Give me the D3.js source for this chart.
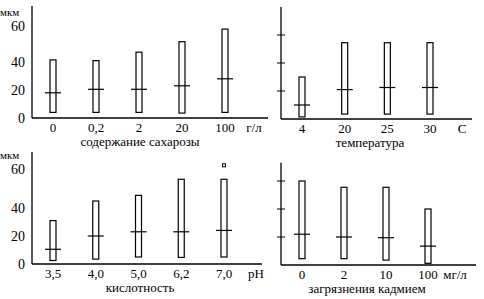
<!DOCTYPE html>
<html>
<head>
<meta charset="utf-8">
<script src="https://cdn.jsdelivr.net/npm/d3@7"></script>
<style>
  body { margin: 0; background: #fff; }
</style>
</head>
<body>
<div id="chart"></div>
<script>
// sucrose, g/l
var sugarCats = ['0', '0,2', '2', '20', '100']
var sugarLow = [4, 4, 4, 3.5, 4]
var sugarHigh = [41.5, 41, 47, 54.5, 63.5]
var sugarMed = [18, 20.5, 20.5, 23, 28]

// temperature, C
var tempCats = ['4', '20', '25', '30']
var tempLow = [1.5, 3.5, 3.5, 3.5]
var tempHigh = [30, 54.5, 54.5, 54.5]
var tempMed = [10, 21, 22.5, 22.5]

// acidity, pH
var phCats = ['3,5', '4,0', '5,0', '6,2', '7,0']
var phLow = [2.5, 3.5, 5, 4.7, 5]
var phHigh = [31, 45, 49, 60.5, 60.5]
var phMed = [10.5, 20, 23, 23, 24]
var phOutlier = [null, null, null, null, 70.5]

// cadmium, mg/l
var cdCats = ['0', '2', '10', '100']
var cdLow = [4.5, 4.5, 3.5, 1.2]
var cdHigh = [60, 55.5, 55.5, 40]
var cdMed = [22, 20, 19.5, 13.5]

var yTicks = [0, 20, 40, 60]

var svg = d3.select('#chart').append('svg')
    .attr('width', 484)
    .attr('height', 299)
    .attr('font-family', "'Liberation Serif', 'Times New Roman', Times, serif")

function drawPanel(p) {
    var g = svg.append('g')
    var x = d3.scalePoint().domain(p.cats).range(p.xr)
    var y = d3.scaleLinear().domain([0, 80]).range([p.y0, p.y0 - 112])

    // axes lines
    g.append('line')
        .attr('x1', p.ax).attr('x2', p.ax)
        .attr('y1', y(p.axTop)).attr('y2', p.y0)
        .attr('stroke', '#000').attr('stroke-width', 1.3)
    g.append('line')
        .attr('x1', p.ax).attr('x2', p.axEnd)
        .attr('y1', p.y0).attr('y2', p.y0)
        .attr('stroke', '#000').attr('stroke-width', 1.3)

    if (p.labels) {
        // tick labels only
        g.selectAll('.yl')
            .data(yTicks)
            .enter()
            .append('text')
            .attr('x', p.ax - 7)
            .attr('y', function(d) { return y(d) + (d == 60 ? p.shift60 : 0) })
            .attr('dy', '0.35em')
            .attr('text-anchor', 'end')
            .style('font-size', '14px')
            .text(function(d) { return d })
        g.append('text')
            .attr('x', 0)
            .attr('y', p.unitY)
            .attr('dy', '0.35em')
            .style('font-size', '11px')
            .text('мкм')
    } else {
        // tick marks only
        g.selectAll('.yt')
            .data(yTicks.slice(1))
            .enter()
            .append('line')
            .attr('x1', p.ax - 4).attr('x2', p.ax + 4)
            .attr('y1', function(d) { return y(d) })
            .attr('y2', function(d) { return y(d) })
            .attr('stroke', '#000')
    }

    // boxes
    g.selectAll('.box')
        .data(p.cats)
        .enter()
        .append('rect')
        .attr('x', function(d) { return x(d) - 3 })
        .attr('width', 6)
        .attr('y', function(d, i) { return y(p.high[i]) })
        .attr('height', function(d, i) { return y(p.low[i]) - y(p.high[i]) })
        .attr('fill', '#fff')
        .attr('stroke', '#000')
        .attr('stroke-width', 1.2)

    // medians
    g.selectAll('.med')
        .data(p.cats)
        .enter()
        .append('line')
        .attr('x1', function(d) { return x(d) - 8 })
        .attr('x2', function(d) { return x(d) + 8 })
        .attr('y1', function(d, i) { return y(p.med[i]) })
        .attr('y2', function(d, i) { return y(p.med[i]) })
        .attr('stroke', '#000')
        .attr('stroke-width', 1.2)

    if (p.outlier) {
        g.selectAll('.out')
            .data(p.cats.filter(function(d, i) { return p.outlier[i] != null }))
            .enter()
            .append('rect')
            .attr('x', function(d) { return x(d) - 1.5 })
            .attr('y', function(d) { return y(p.outlier[p.cats.indexOf(d)]) - 1.5 })
            .attr('width', 3)
            .attr('height', 3)
            .attr('fill', '#fff')
            .attr('stroke', '#000')
    }

    // category labels
    g.selectAll('.xl')
        .data(p.cats)
        .enter()
        .append('text')
        .attr('x', function(d) { return x(d) })
        .attr('y', p.y0 + 14)
        .attr('text-anchor', 'middle')
        .style('font-size', '13px')
        .text(function(d) { return d })

    g.append('text')
        .attr('x', p.unitX)
        .attr('y', p.y0 + 14)
        .attr('text-anchor', 'middle')
        .style('font-size', '13px')
        .text(p.unit)

    g.append('text')
        .attr('x', p.titleX)
        .attr('y', p.y0 + 28)
        .attr('text-anchor', 'middle')
        .style('font-size', '13px')
        .text(p.title)
}

drawPanel({cats: sugarCats, low: sugarLow, high: sugarHigh, med: sugarMed,
    xr: [53, 225], ax: 32, axEnd: 268, y0: 118, axTop: 80, labels: true, shift60: -8, unitY: 12,
    unit: 'г/л', unitX: 254, title: 'содержание сахарозы', titleX: 140})
drawPanel({cats: tempCats, low: tempLow, high: tempHigh, med: tempMed,
    xr: [302, 430], ax: 281, axEnd: 472, y0: 119, axTop: 80, labels: false,
    unit: 'С', unitX: 462, title: 'температура', titleX: 370})
drawPanel({cats: phCats, low: phLow, high: phHigh, med: phMed, outlier: phOutlier,
    xr: [53, 224], ax: 32, axEnd: 262, y0: 264, axTop: 80, labels: true, shift60: -11, unitY: 155,
    unit: 'pH', unitX: 256, title: 'кислотность', titleX: 140})
drawPanel({cats: cdCats, low: cdLow, high: cdHigh, med: cdMed,
    xr: [302, 428], ax: 281, axEnd: 476, y0: 265, axTop: 73, labels: false,
    unit: 'мг/л', unitX: 455, title: 'загрязнения кадмием', titleX: 367})
</script>
</body>
</html>
